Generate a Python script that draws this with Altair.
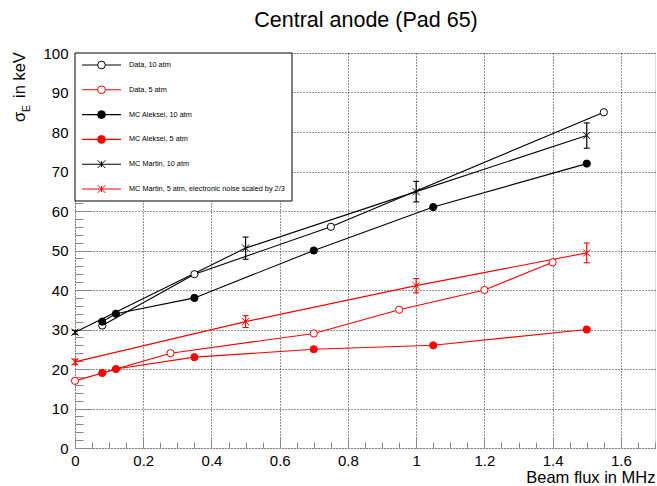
import altair as alt
import pandas as pd

FONT = "Liberation Sans"

chart_title = "Central anode (Pad 65)"
series_names = [
    "Data, 10 atm",
    "Data, 5 atm",
    "MC Aleksei, 10 atm",
    "MC Aleksei, 5 atm",
    "MC Martin, 10 atm",
    "MC Martin, 5 atm, electronic noise scaled by 2/3",
]
series_colors = ["#000000", "#ff0000", "#000000", "#ff0000", "#000000", "#ff0000"]
series_fills = ["#ffffff", "#ffffff", "#000000", "#ff0000", "#ffffff", "#ffffff"]
X_PATH = "M-1,-1L1,1M-1,1L1,-1"
series_shapes = ["circle", "circle", "circle", "circle", X_PATH, X_PATH]

data10_x = [0.08, 0.35, 0.75, 1.55]
data10_y = [31.0, 44.0, 56.0, 85.0]
data5_x = [0.0, 0.28, 0.70, 0.95, 1.20, 1.40]
data5_y = [17.0, 24.0, 29.0, 35.0, 40.0, 47.0]
alek10_x = [0.08, 0.12, 0.35, 0.70, 1.05, 1.50]
alek10_y = [32.0, 34.0, 38.0, 50.0, 61.0, 72.0]
alek5_x = [0.08, 0.12, 0.35, 0.70, 1.05, 1.50]
alek5_y = [19.0, 20.0, 23.0, 25.0, 26.0, 30.0]
martin10_x = [0.0, 0.5, 1.0, 1.5]
martin10_y = [29.3, 50.6, 64.9, 79.1]
martin10_err = [0.5, 2.8, 2.6, 3.2]
martin5_x = [0.0, 0.5, 1.0, 1.5]
martin5_y = [21.8, 32.0, 41.1, 49.4]
martin5_err = [0.7, 1.5, 1.8, 2.5]

x_major_ticks = [0, 0.2, 0.4, 0.6, 0.8, 1.0, 1.2, 1.4, 1.6]
x_minor_ticks = [round(i * 0.05, 2) for i in range(35)]
y_major_ticks = [0, 10, 20, 30, 40, 50, 60, 70, 80, 90, 100]
y_minor_ticks = [v for v in range(0, 101, 2)]

# ---- tables built from the arrays ----
series_xy = [
    (data10_x, data10_y), (data5_x, data5_y), (alek10_x, alek10_y),
    (alek5_x, alek5_y), (martin10_x, martin10_y), (martin5_x, martin5_y),
]
pts = pd.concat(
    [pd.DataFrame({"series": n, "x": xs, "y": ys}) for n, (xs, ys) in zip(series_names, series_xy)],
    ignore_index=True,
)
errs = pd.concat([
    pd.DataFrame({"series": series_names[4], "x": martin10_x, "y": martin10_y, "err": martin10_err}),
    pd.DataFrame({"series": series_names[5], "x": martin5_x, "y": martin5_y, "err": martin5_err}),
], ignore_index=True)
leg = pd.DataFrame({"series": series_names, "idx": list(range(len(series_names)))})
one = pd.DataFrame({"a": [0]})

xsc = alt.Scale(domain=[0, 1.7], nice=False, zero=False)
ysc = alt.Scale(domain=[0, 100], nice=False, zero=False)
color = alt.Color("series:N", scale=alt.Scale(domain=series_names, range=series_colors), legend=None)
fill = alt.Fill("series:N", scale=alt.Scale(domain=series_names, range=series_fills), legend=None)
shape = alt.Shape("series:N", scale=alt.Scale(domain=series_names, range=series_shapes), legend=None)

grid_kw = dict(grid=True, gridColor="#000000", gridDash=[1, 2], gridWidth=1, gridOpacity=0.85)

x_major_axis = alt.Axis(
    orient="bottom", values=x_major_ticks, format="~g", offset=-11, tickSize=11,
    domain=False, labelFontSize=15, labelPadding=5, labelFlush=False, labelOverlap=False,
    title="Beam flux in MHz", titleAnchor="end", titleFontSize=16.5, titleFontWeight="normal",
    titlePadding=1, **grid_kw)
y_major_axis = alt.Axis(
    orient="left", values=y_major_ticks, format="d", offset=-17, tickSize=17,
    domain=False, labelFontSize=15, labelPadding=7, labelFlush=False, labelOverlap=False,
    title=None, **grid_kw)
x_minor_axis = alt.Axis(orient="bottom", values=x_minor_ticks, offset=-6, tickSize=6,
                        domain=False, labels=False, grid=False, title=None)
y_minor_axis = alt.Axis(orient="left", values=y_minor_ticks, offset=-8, tickSize=8,
                        domain=False, labels=False, grid=False, title=None)

lines = alt.Chart(pts).mark_line(strokeWidth=1.1).encode(
    x=alt.X("x:Q", scale=xsc, axis=x_major_axis),
    y=alt.Y("y:Q", scale=ysc, axis=y_major_axis),
    color=color, detail="series:N",
)

ebars = alt.Chart(errs).transform_calculate(
    lo="datum.y - datum.err", hi="datum.y + datum.err"
).mark_rule(strokeWidth=1.2).encode(
    x=alt.X("x:Q", scale=xsc, axis=None),
    y=alt.Y("lo:Q", scale=ysc, axis=None), y2="hi:Q", color=color,
)
caps = alt.Chart(errs).transform_calculate(
    lo="datum.y - datum.err", hi="datum.y + datum.err"
).transform_fold(["lo", "hi"], as_=["end", "v"]).mark_tick(
    orient="horizontal", size=6, thickness=1.1, opacity=1
).encode(
    x=alt.X("x:Q", scale=xsc, axis=None),
    y=alt.Y("v:Q", scale=ysc, axis=None), color=color,
)

points = alt.Chart(pts).mark_point(size=52, strokeWidth=1, opacity=1, fillOpacity=1).encode(
    x=alt.X("x:Q", scale=xsc, axis=x_minor_axis),
    y=alt.Y("y:Q", scale=ysc, axis=y_minor_axis),
    stroke=alt.Stroke("series:N", scale=alt.Scale(domain=series_names, range=series_colors), legend=None),
    fill=fill, shape=shape,
)

# ---- legend box (ROOT TLegend style) ----
box = alt.Chart(one).mark_rect(fill="#ffffff", stroke="#000000", strokeWidth=1).encode(
    x=alt.value(0), x2=alt.value(217), y=alt.value(0), y2=alt.value(148)
)
leg_base = alt.Chart(leg).transform_calculate(ly="12 + 24.8 * datum.idx")
leg_lines = leg_base.mark_rule(strokeWidth=1.1).encode(
    x=alt.value(7), x2=alt.value(46), y=alt.Y("ly:Q", scale=None, axis=None), color=color
)
leg_err = leg_base.transform_filter("datum.idx >= 4").transform_calculate(
    la="datum.ly - 3", lb="datum.ly + 3"
).mark_rule(strokeWidth=1).encode(
    x=alt.value(26.5), y=alt.Y("la:Q", scale=None, axis=None), y2="lb:Q", color=color
)
leg_pts = leg_base.mark_point(size=60, strokeWidth=1, opacity=1, fillOpacity=1).encode(
    x=alt.value(26.5), y=alt.Y("ly:Q", scale=None, axis=None),
    stroke=alt.Stroke("series:N", scale=alt.Scale(domain=series_names, range=series_colors), legend=None),
    fill=fill, shape=shape,
)
leg_text = leg_base.mark_text(align="left", baseline="middle", fontSize=7.3, font=FONT, color="#000000").encode(
    x=alt.value(54), y=alt.Y("ly:Q", scale=None, axis=None), text="series:N"
)

# ---- titles as text marks ----
title_mark = alt.Chart(one).mark_text(text=chart_title, align="center", baseline="alphabetic",
                                      fontSize=21.5, font=FONT, color="#000000").encode(
    x=alt.value(291), y=alt.value(-26))
yt1 = alt.Chart(one).mark_text(text="σ", angle=270, align="left", baseline="alphabetic",
                               fontSize=16.5, font=FONT, color="#000000").encode(
    x=alt.value(-50), y=alt.value(69))
yt2 = alt.Chart(one).mark_text(text="E", angle=270, align="left", baseline="alphabetic",
                               fontSize=10.5, font=FONT, color="#000000").encode(
    x=alt.value(-45), y=alt.value(59))
yt3 = alt.Chart(one).mark_text(text="in keV", angle=270, align="left", baseline="alphabetic",
                               fontSize=16.5, font=FONT, color="#000000").encode(
    x=alt.value(-50), y=alt.value(45))

chart = alt.layer(
    lines, ebars, caps, points, box, leg_lines, leg_err, leg_pts, leg_text,
    title_mark, yt1, yt2, yt3
).resolve_axis(x="independent", y="independent").properties(
    width=580, height=395,
    padding={"left": 75, "top": 53, "right": 2, "bottom": 38},
    autosize=alt.AutoSizeParams(type="none"),
).configure_view(stroke="#000000", strokeWidth=1).configure_axis(
    labelFont=FONT, titleFont=FONT, labelColor="#000000", titleColor="#000000",
    tickColor="#000000", tickWidth=1
).configure(background="#ffffff")

chart.save("out.html", embed_options={"renderer": "svg", "actions": False})
